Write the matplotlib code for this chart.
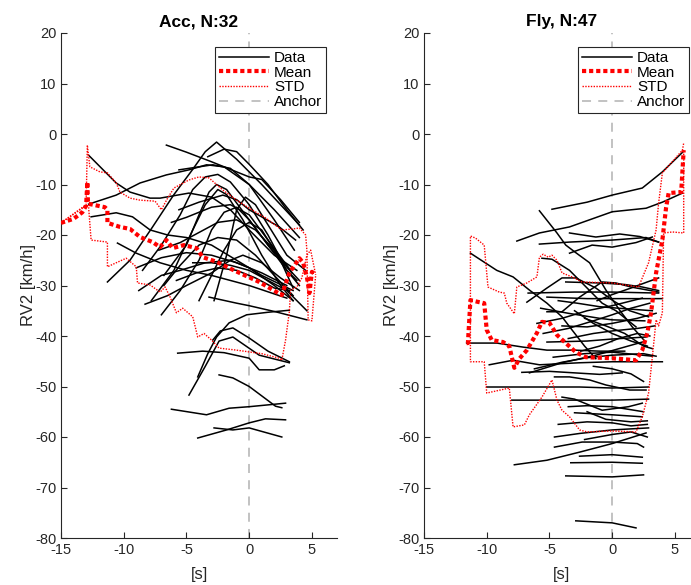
import numpy as np
import matplotlib
matplotlib.use('Agg')
from matplotlib import pyplot as plt

plt.rcParams['font.family'] = ['Liberation Sans', 'DejaVu Sans']
plt.rcParams['axes.unicode_minus'] = False

# ---- Acc panel: individual runs, (t [s], RV2 [km/h]) ----
acc_lines = [
    [(-12.8, -4.2), (-10.6, -9.7), (-9.5, -11.5), (-7.9, -12.7), (-7.1, -12.7), (-4.8, -11.7), (-3, -12.5), (-1.5, -15), (0, -19), (2, -24), (3.8, -27)],
    [(-12.8, -13.9), (-10.6, -12.1), (-8.7, -9.7), (-6.6, -8.1), (-4.8, -7.1), (-3.4, -6.1), (-2, -6.5), (0, -10), (2, -15), (4, -20.5)],
    [(-12.6, -16.4), (-10.6, -15.6), (-9.3, -16.4), (-7.9, -19), (-6.5, -20), (-5, -20.5), (-3, -22), (-1, -25), (1, -28), (3.5, -31)],
    [(-11.3, -29.3), (-9.5, -25), (-7.7, -18.4), (-6, -12), (-4.5, -7), (-3.5, -3.5), (-2.6, -1.6), (-1, -5), (1, -10), (2.5, -14), (4, -18)],
    [(-10.5, -21.6), (-9, -23.6), (-7.1, -25.5), (-5, -27), (-3, -28), (0, -30), (3, -32.5)],
    [(-6.6, -2.2), (-5, -3.6), (-3, -5.5), (-1, -7.5), (0, -8.5), (1, -9), (2.5, -13), (4, -17.5)],
    [(-5.6, -7.1), (-4, -6.5), (-2.9, -6.1), (-1.5, -6.8), (0, -10), (2, -17), (3.6, -23)],
    [(-5.6, -15), (-4, -13.5), (-2.1, -12.1), (-1, -13), (0, -15), (2.4, -18.4), (3.7, -21)],
    [(-8.5, -27), (-7, -22), (-5.5, -16), (-4.5, -11), (-3.5, -8.5), (-2.5, -8), (-1.5, -9.5), (0, -14), (1.5, -20), (3, -27), (3.8, -29)],
    [(-7.8, -33), (-6, -27), (-4.5, -19), (-3.5, -14), (-2.5, -11), (-1.8, -12), (-0.5, -17), (1, -24), (2.5, -30), (3.5, -33)],
    [(-7, -35.8), (-5.5, -31), (-4, -25), (-3, -19), (-2, -15.5), (-1, -14.5), (0, -17), (1.5, -22), (3, -27), (4, -30)],
    [(-6.8, -30), (-5.5, -26), (-4, -22), (-2.5, -20.5), (-1, -21), (0.5, -24), (2, -28), (3.5, -32)],
    [(-8.8, -31), (-7, -28), (-5.5, -27), (-3.5, -25.5), (-1.5, -25), (0, -26.5), (2, -30), (3.5, -33)],
    [(-8.3, -33.7), (-6.5, -32), (-5, -30), (-3, -27.5), (-1.5, -25), (-0.5, -24), (1, -25.5), (2.5, -28.5), (4, -31)],
    [(-6.2, -17.5), (-5, -16.5), (-3, -14.5), (-1.5, -14), (0, -16), (1.5, -21), (3.3, -27)],
    [(-2.8, -33), (-1.8, -24), (-1, -15), (-0.3, -12.5), (0.5, -14), (1.5, -18), (3, -24), (4.5, -27)],
    [(-4, -33), (-3, -28), (-2, -23), (-1, -19), (0, -17.5), (1, -19), (2.5, -25), (4, -29)],
    [(-4.5, -25.5), (-3, -25.5), (-1.5, -26), (0, -27), (1.5, -29), (3, -31), (4.6, -35)],
    [(-3.2, -32.3), (-1, -33.5), (0, -34), (2.1, -35.2), (4.6, -36.8)],
    [(-4.1, -48.1), (-3.3, -43.5), (-2.6, -40.2), (-1.6, -37.4), (-0.2, -35.8), (1.5, -35.3), (3.2, -34.9)],
    [(-4.8, -51.7), (-3.5, -46), (-2.4, -41), (-1.3, -40.2), (0.8, -43.8), (3.2, -45.3)],
    [(-5.7, -43.4), (-3.7, -43), (-2, -43.3), (0, -44.4), (0.8, -46.7), (2, -46.7), (2.8, -45.9)],
    [(-2.4, -47.7), (-1.3, -48.3), (0, -50), (2.1, -53.9), (2.6, -54.2)],
    [(-6.2, -54.5), (-3.4, -55.6), (-1.6, -54.3), (0, -54), (2.9, -53.3)],
    [(-4.1, -60.2), (-1.8, -58.6), (0, -57.2), (1.3, -56.4), (2.9, -56.6)],
    [(-2.8, -58.2), (-1.3, -58.6), (0, -58.2), (2.6, -60)],
    [(-2.9, -40.8), (-2.3, -39), (-1.3, -38.4), (0, -40.4), (1.5, -43), (3.2, -45.1)],
    [(-9, -26.5), (-7, -24.5), (-5, -23.5), (-3, -24), (-1, -25.5), (1, -27.5), (3, -30)],
    [(-7.2, -23), (-5.5, -21.5), (-4, -19.5), (-2.5, -17.5), (-1, -17), (0.5, -19), (2, -23), (3.4, -27.5)],
    [(-5.8, -29), (-4.2, -27.5), (-2.5, -26.5), (-1, -27), (0.5, -28.5), (2, -30.5), (3.2, -31)],
    [(-6.8, -28), (-5, -22), (-4, -16), (-3.2, -11.5), (-2.6, -10), (-1.8, -11), (0, -17), (1.5, -22), (2.4, -24.5), (3.5, -30.5)],
    [(-3.3, -4.5), (-2, -3), (-1, -3.5), (0, -6), (1.5, -10), (3, -15), (4.3, -19)],
]

acc_mean_t = [-15, -14, -13.3, -13, -12.9, -12.85, -11.5, -11.3, -11.3, -10.3, -9.5, -8.7, -7.7, -7.1, -6.6, -6.1, -5.2, -4.2, -3.7, -2.6, -1.3, 0.8, 2.6, 3.2, 4, 4.3, 4.6, 4.8, 5.0, 5.3]
acc_mean_v = [-17.6, -16.8, -15.5, -14.2, -9.5, -13.8, -14.5, -15, -17.6, -18.4, -18.8, -20.4, -21.4, -22.4, -21, -22.6, -22, -22.6, -24.4, -25.3, -26.9, -29.3, -31.9, -27.5, -24.6, -25.5, -28.3, -31.5, -27.3, -27.9]

acc_std_hi_t = [-15, -13, -12.9, -12.7, -11.9, -11.3, -10.6, -10.3, -9.5, -8.7, -7.5, -7, -6.5, -6, -4.8, -4, -3.2, -2.1, -1, 0, 1.3, 2.6, 3.5, 4, 4.5, 4.6, 4.7, 5.0, 5.3]
acc_std_hi_v = [-17.6, -14, -2.2, -6.5, -7.5, -7.7, -9.7, -11.5, -12.7, -13.1, -13.3, -15, -12.7, -10.7, -9.1, -8.5, -8.7, -11.1, -13.1, -14.7, -16.6, -19, -18.8, -18.6, -20, -23, -36.8, -37, -27.9]

acc_std_lo_t = [-15, -13, -12.8, -12.6, -11.3, -11.3, -10.6, -9.8, -9, -8.9, -7.9, -7.1, -6.7, -6.3, -5.8, -5.3, -4.5, -4.1, -3.6, -3, -2.4, -1, 1, 2.4, 2.6, 2.9, 3.2, 3.3, 3.8, 4.2, 4.6, 4.9, 5.3]
acc_std_lo_v = [-17.6, -14.2, -14.5, -21, -21.4, -26.3, -25.5, -24.6, -26.3, -29.5, -29.9, -31.3, -30.3, -32.3, -35.4, -34.5, -36.2, -40.2, -39.5, -40.8, -42.4, -42.8, -43.5, -44.4, -44.8, -40.8, -35.2, -30.9, -30.3, -28.5, -24, -23, -27.9]

# ---- Fly panel ----
fly_lines = [
    [(-4.8, -14.9), (-2, -13.5), (0, -12.1), (2.4, -10.7), (4, -7.5), (5.7, -3.4)],
    [(-7.6, -21.2), (-5.8, -19.6), (-3.4, -18.4), (0, -15.4), (2.7, -14.7), (4, -13.5), (5.6, -11.7)],
    [(-3.4, -19.6), (-1.3, -20.4), (0.6, -19.8), (2.2, -20.3), (3.7, -21.4)],
    [(-5.8, -21.8), (-3.4, -21.4), (0, -21), (2.7, -20.5), (3.7, -21.4)],
    [(-3.4, -23.6), (-1.6, -22), (0, -22.4), (1.9, -21.5), (3.2, -20.4)],
    [(-5.8, -15.2), (-4.4, -19.6), (-3.7, -22), (-2.9, -23.5), (-1.8, -25.5), (-0.5, -30.9), (0.6, -34.9), (1.6, -38.2), (2.6, -41)],
    [(-11.3, -23.6), (-9.2, -27), (-7.9, -28.3), (-6.6, -30.9), (-5.2, -33.5), (-4, -36.2), (-3.2, -38.8), (-2.2, -42), (-1.3, -44.5)],
    [(-5.6, -24.6), (-4.8, -24.8), (-3.4, -27), (-2.4, -29.5), (-0.8, -33.5), (0.3, -35), (1.9, -38.2)],
    [(-6.8, -33.3), (-5.2, -30.5), (-4, -28.5), (-2.9, -28.5), (-1.3, -30.5), (0, -32.9), (1.4, -35), (2.9, -36.2)],
    [(-6.7, -31.5), (-3, -31.3), (0, -31.3), (3.7, -31.5)],
    [(-5.2, -32.3), (-2, -32.6), (0, -32.6), (4, -32.6)],
    [(-5.2, -35.2), (-4, -35.2), (-2.6, -32.3), (-0.8, -29.3), (0.3, -29.5), (1.5, -30.3), (3.7, -31.3)],
    [(-3.7, -29.3), (-1, -29.5), (1, -29.8), (2.4, -30.3), (3.7, -31)],
    [(-11.6, -41.4), (-9.2, -41.4), (-7.1, -42.2), (-5.2, -42.8), (-3, -42.8), (-1, -43), (1, -43)],
    [(-9.8, -45.7), (-7.9, -44.8), (-5.8, -45.7), (-2.6, -45.3), (0, -45.1), (4, -45.1)],
    [(-6.6, -47.3), (-4, -45.3), (-1.3, -43.8), (2.4, -41.2)],
    [(-10, -50.1), (-7.6, -50.1), (-5.2, -50.1), (-2.6, -50.1), (0, -50.3), (2.9, -50.1)],
    [(-8, -52.7), (-5.2, -52.7), (-2.6, -52.7), (0, -52.7), (2.9, -52.5)],
    [(-4.6, -48.1), (-3.4, -48.1), (-1.8, -48.7), (-0.5, -49.7), (1.4, -50.7), (2.7, -50.7)],
    [(-4, -52.1), (-3, -52.5), (-0.8, -54.7), (1.3, -54), (2.4, -53.3)],
    [(-3, -55.2), (0, -55.6), (2.4, -56)],
    [(-4.6, -60), (-2.6, -59.3), (0, -58.6), (2.9, -58.2)],
    [(-4.6, -62), (-2.4, -61), (0, -61), (2, -61.3), (2.5, -62)],
    [(-7.8, -65.5), (-5.2, -64.6), (-2.6, -63), (0, -61.3), (2.7, -59.2)],
    [(-3.3, -65.1), (0, -65), (2.4, -65.2)],
    [(-2.6, -63.8), (0, -63.5), (2.4, -64)],
    [(-3.7, -67.7), (0, -67.9), (2.5, -67.5)],
    [(-2.9, -76.6), (0, -77), (1.9, -78)],
    [(-5.2, -41.2), (-2, -41), (0, -40.6), (2.7, -40.2)],
    [(-6, -37.5), (-4, -36.5), (-2, -35), (0, -34), (2.4, -32.5)],
    [(-5.7, -34.5), (-3.5, -35.5), (-1, -36.5), (0, -36.8), (2.6, -37)],
    [(-4, -38), (-2, -38.2), (0, -37.5), (2, -36.5), (3.5, -35.5)],
    [(-3.5, -40.5), (-1.5, -39.5), (0, -39), (2, -38.5), (3.4, -38)],
    [(-2.5, -43), (-1, -42), (0.5, -40.5), (2, -39.5), (3, -40)],
    [(-6.2, -46.5), (-4, -45.2), (-2, -44.3), (0, -43.8), (2.5, -43.5), (3.5, -44)],
    [(-1.5, -46), (0, -46.5), (1.5, -47.5), (2.5, -49)],
    [(-4.3, -57.5), (-2, -57), (0, -57.2), (1.5, -57.8), (2.8, -57.5)],
    [(-3.5, -54), (-2, -53.8), (0, -54), (2.5, -55)],
    [(-4.3, -33), (-2.8, -33.5), (-1, -34.2), (0.5, -34.5), (3.2, -35)],
    [(-5.5, -39.5), (-3.5, -38.5), (-1.5, -37), (0, -35.8), (1.5, -34.5), (3, -33.5)],
    [(-3, -35), (-1.5, -37.5), (0, -39.5), (1.5, -41), (2.8, -42)],
    [(-4.7, -44.2), (-2.2, -43.5), (0, -43.2), (3.2, -44)],
    [(-7.2, -47.2), (-5, -47), (-3, -47.3), (-1, -47.6), (0.8, -47.3)],
    [(-1.2, -33), (0, -31.8), (1.5, -30.5), (2.8, -29.3), (3.7, -28.5)],
    [(-2.2, -36.5), (-0.5, -38), (1, -39.5), (2.5, -42), (3.2, -42.5)],
    [(-2.2, -60.5), (0, -59.5), (1.5, -59), (2.8, -60)],
    [(-2, -55), (-0.5, -56.5), (1.5, -57), (2.8, -56.8)],
]

fly_mean_t = [-11.6, -11.5, -11.3, -10.6, -10.2, -10, -9.6, -8.7, -8.2, -8, -7.8, -7.4, -6.8, -6, -5.6, -5, -4.4, -3.7, -2.9, -2.1, 0, 1.9, 2.4, 2.8, 3.1, 3.5, 4, 4.3, 4.5, 5.5, 5.7]
fly_mean_v = [-41.4, -41.4, -32.9, -33.3, -33.5, -38.8, -40.8, -41.2, -42, -44.2, -46.3, -44.5, -42.8, -39.4, -37.2, -37.4, -39.8, -41.4, -43.2, -44.2, -44.4, -44.8, -42.8, -39.4, -35.4, -27.5, -21, -14.5, -11.7, -11.5, -3.2]

fly_std_hi_t = [-11.6, -11.3, -11.3, -10.9, -10.2, -9.9, -9, -8.6, -8.4, -7.8, -7.6, -6.8, -6, -5.8, -5.5, -5.1, -4.8, -4.4, -4, -3.2, -2.4, 0, 2.1, 2.9, 3.5, 3.7, 4, 5.6, 5.7]
fly_std_hi_v = [-41.4, -41.4, -20.2, -20.6, -22, -30.3, -31.3, -31.5, -33.5, -35.6, -30.3, -29.5, -28.3, -24.4, -23.8, -24.4, -24, -25, -27.5, -28.3, -29.3, -29.5, -30.3, -25.5, -19, -13.7, -7.7, -3.2, -1.8]

fly_std_lo_t = [-11.6, -11.3, -11.3, -10.2, -10, -8.2, -7.9, -7, -6.6, -5.6, -4.8, -4.4, -4, -3.4, -2.6, -2, 0, 1.9, 2.4, 2.9, 3.2, 3.5, 3.7, 4, 4.1, 4.8, 5.7, 5.7]
fly_std_lo_v = [-41.4, -41.4, -45.1, -45.1, -51.3, -50.3, -58, -57.6, -55.6, -52.1, -48.7, -52.7, -54.7, -56, -58.6, -59, -58.8, -59, -56, -51.3, -44.2, -36.8, -38, -35.4, -19.6, -19.4, -19.6, -3.2]

titles = ['Acc, N:32', 'Fly, N:47']


def draw_panel(ax, lines, mean_t, mean_v, hi_t, hi_v, lo_t, lo_v, title):
    first = True
    for run in lines:
        t = [p[0] for p in run]
        v = [p[1] for p in run]
        ax.plot(t, v, color='k', lw=1.1, label='Data' if first else None, zorder=2)
        first = False
    ax.plot(mean_t, mean_v, color='r', ls=(0, (1, 0.7)), lw=3, label='Mean', zorder=4)
    ax.plot(hi_t, hi_v, color='r', ls=(0, (1, 1)), lw=1, label='STD', zorder=3)
    ax.plot(lo_t, lo_v, color='r', ls=(0, (1, 1)), lw=1, zorder=3)
    ax.axvline(0, color='#bdbdbd', ls=(0, (5, 4)), lw=1.3, label='Anchor', zorder=1)

    ax.set_xlim(-15, 7)
    ax.set_ylim(-80, 20)
    ax.set_xticks([-15, -10, -5, 0, 5])
    ax.set_yticks(np.arange(-80, 21, 10))
    ax.spines['top'].set_visible(False)
    ax.spines['right'].set_visible(False)
    for s in ['left', 'bottom']:
        ax.spines[s].set_color('#262626')
    ax.tick_params(direction='in', length=4, labelsize=10.5, colors='#262626')
    ax.set_xlabel('[s]', fontsize=12, color='#262626', labelpad=7)
    ax.set_ylabel('RV2 [km/h]', fontsize=12, color='#262626', labelpad=-1)
    ax.set_title(title, fontsize=12.5, fontweight='bold', pad=5)
    leg = ax.legend(loc='upper right', bbox_to_anchor=(0.96, 0.972), fontsize=11,
                    fancybox=False, framealpha=1, edgecolor='#262626',
                    handlelength=3.3, borderpad=0.25, labelspacing=0.05,
                    handletextpad=0.3, borderaxespad=0)
    leg.get_frame().set_linewidth(0.8)


fig = plt.figure(figsize=(6.91, 5.85), dpi=100)
ax1 = fig.add_axes([61 / 691, 47 / 585, 276 / 691, 505 / 585])
ax2 = fig.add_axes([424 / 691, 47 / 585, 276 / 691, 505 / 585])

draw_panel(ax1, acc_lines, acc_mean_t, acc_mean_v, acc_std_hi_t, acc_std_hi_v,
           acc_std_lo_t, acc_std_lo_v, titles[0])
draw_panel(ax2, fly_lines, fly_mean_t, fly_mean_v, fly_std_hi_t, fly_std_hi_v,
           fly_std_lo_t, fly_std_lo_v, titles[1])

plt.savefig('out.png', dpi=100)
